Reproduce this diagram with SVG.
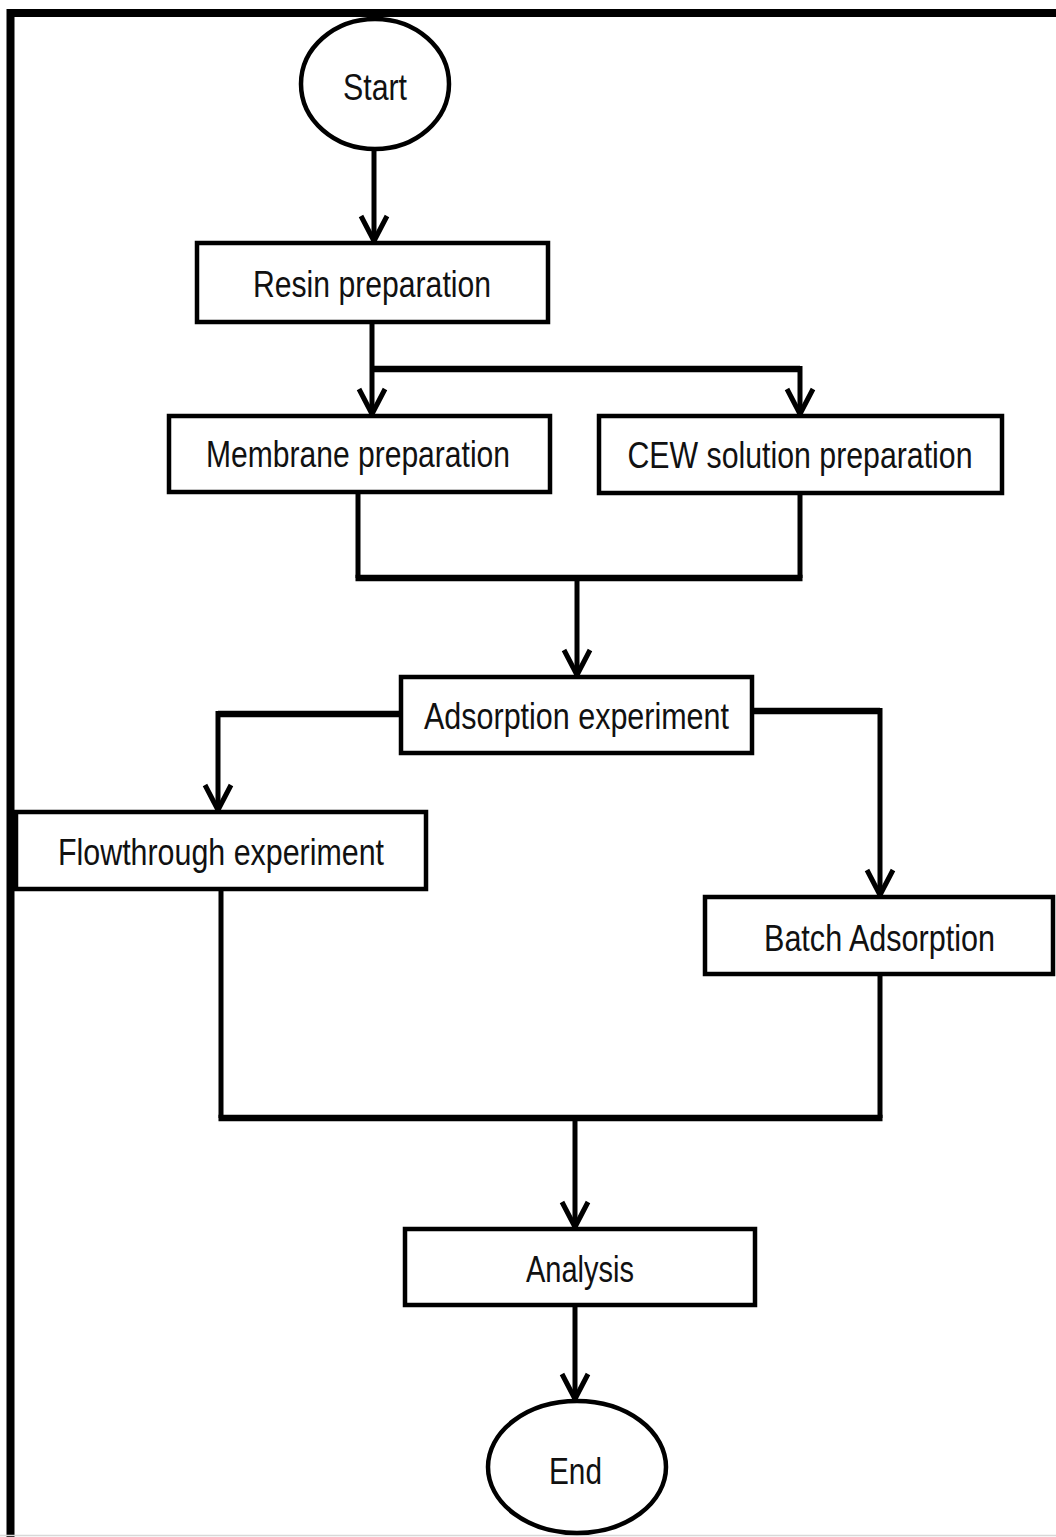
<svg xmlns="http://www.w3.org/2000/svg" width="1056" height="1537" viewBox="0 0 1056 1537">
<defs>
<style>
.box{fill:#fff;stroke:#000;stroke-width:4.5}
.oval{fill:#fff;stroke:#000;stroke-width:4.5}
.lbl{font-family:"Liberation Sans",Arial,sans-serif;font-size:37px;fill:#111;text-anchor:middle}
.wire{fill:none;stroke:#000;stroke-width:5;stroke-linejoin:miter}
.join{fill:none;stroke:#000;stroke-width:6.5}
</style>
<marker id="ah" markerUnits="userSpaceOnUse" markerWidth="40" markerHeight="40" viewBox="-30 -20 34 40" refX="0" refY="0" orient="auto">
<path d="M-25,-13 L0,0 L-25,13" fill="none" stroke="#000" stroke-width="5" stroke-linejoin="miter"/>
</marker>
</defs>
<rect width="1056" height="1537" fill="#fff"/>
<g id="frame">
<path d="M10.5,1537 V13 H1056" fill="none" stroke="#000" stroke-width="8"/>
<line x1="0" y1="1535.5" x2="1056" y2="1535.5" stroke="#d8d8d8" stroke-width="1.5"/>
</g>
<g id="connectors">
<path class="wire" d="M374,150 V241" marker-end="url(#ah)"/>
<path class="wire" d="M372,322 V414" marker-end="url(#ah)"/>
<path class="join" d="M372,369 H800"/>
<path class="wire" d="M800,366 V414" marker-end="url(#ah)"/>
<path class="wire" d="M358,492 V578"/>
<path class="wire" d="M800,493 V578"/>
<path class="join" d="M355.5,578 H802.5"/>
<path class="wire" d="M577,578 V675" marker-end="url(#ah)"/>
<path class="join" d="M401,714 H218"/>
<path class="wire" d="M218,711 V810" marker-end="url(#ah)"/>
<path class="join" d="M752,711 H880"/>
<path class="wire" d="M880,708 V895" marker-end="url(#ah)"/>
<path class="wire" d="M221,889 V1118"/>
<path class="wire" d="M880,974 V1118"/>
<path class="join" d="M218.5,1118 H882.5"/>
<path class="wire" d="M575,1118 V1227" marker-end="url(#ah)"/>
<path class="wire" d="M575,1305 V1399" marker-end="url(#ah)"/>
</g>
<g id="start">
<ellipse class="oval" cx="375" cy="84" rx="74" ry="65"/>
<text class="lbl" x="375" y="100" textLength="64" lengthAdjust="spacingAndGlyphs">Start</text>
</g>
<g id="resin">
<rect class="box" x="197" y="243" width="351" height="79"/>
<text class="lbl" x="372" y="297" textLength="238" lengthAdjust="spacingAndGlyphs">Resin preparation</text>
</g>
<g id="membrane">
<rect class="box" x="169" y="416" width="381" height="76"/>
<text class="lbl" x="358" y="467" textLength="304" lengthAdjust="spacingAndGlyphs">Membrane preparation</text>
</g>
<g id="cew">
<rect class="box" x="599" y="416" width="403" height="77"/>
<text class="lbl" x="800" y="468" textLength="345" lengthAdjust="spacingAndGlyphs">CEW solution  preparation</text>
</g>
<g id="adsorption">
<rect class="box" x="401" y="677" width="351" height="76"/>
<text class="lbl" x="576.5" y="729" textLength="305" lengthAdjust="spacingAndGlyphs">Adsorption experiment</text>
</g>
<g id="flowthrough">
<rect class="box" x="16" y="812" width="410" height="77"/>
<text class="lbl" x="221" y="865" textLength="326" lengthAdjust="spacingAndGlyphs">Flowthrough experiment</text>
</g>
<g id="batch">
<rect class="box" x="705" y="897" width="348" height="77"/>
<text class="lbl" x="879.5" y="951" textLength="231" lengthAdjust="spacingAndGlyphs">Batch Adsorption</text>
</g>
<g id="analysis">
<rect class="box" x="405" y="1229" width="350" height="76"/>
<text class="lbl" x="580" y="1282" textLength="108" lengthAdjust="spacingAndGlyphs">Analysis</text>
</g>
<g id="end">
<ellipse class="oval" cx="577" cy="1467" rx="89" ry="66"/>
<text class="lbl" x="575.5" y="1484" textLength="53" lengthAdjust="spacingAndGlyphs">End</text>
</g>
</svg>
